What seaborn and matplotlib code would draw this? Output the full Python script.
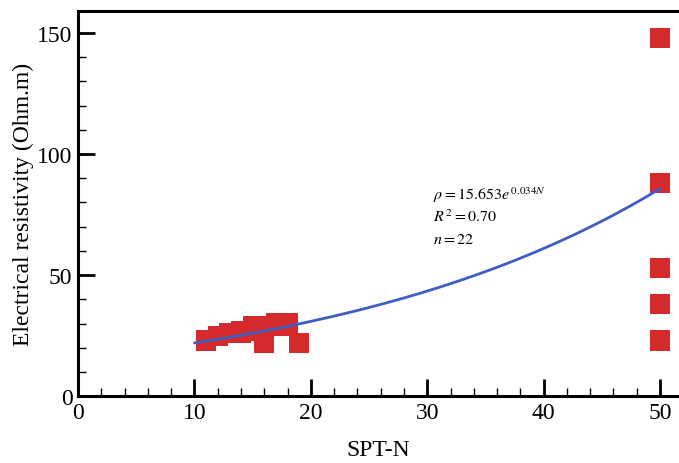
import numpy as np
import pandas as pd
import matplotlib
matplotlib.use("Agg")
import matplotlib.pyplot as plt
from matplotlib.ticker import MultipleLocator
import seaborn as sns

# Data
spt_n = [11, 12, 13, 14, 14, 15, 15, 15, 16, 16, 16, 16, 17, 17, 18, 18, 19,
         50, 50, 50, 50, 50]
resistivity = [23, 25, 26, 27, 26, 28, 27, 29, 29, 22, 28, 23, 30, 29, 30, 29, 22,
               148, 88, 53, 38, 23]

fit_a = 15.653
fit_b = 0.034
fit_range = [10, 50]

sns.set_style("ticks")
plt.rcParams['font.family'] = ['Liberation Serif', 'DejaVu Serif']
plt.rcParams['mathtext.fontset'] = 'stix'
for k in ["text.color", "axes.labelcolor", "xtick.color", "ytick.color", "axes.edgecolor"]:
    plt.rcParams[k] = "black"

df = pd.DataFrame({"SPT-N": spt_n, "rho": resistivity})
xf = np.linspace(fit_range[0], fit_range[1], 100)
fit_df = pd.DataFrame({"x": xf, "y": fit_a * np.exp(fit_b * xf)})

fig = plt.figure(figsize=(6.79, 4.64), dpi=100)
ax = fig.add_axes([0.115, 0.144, 0.885, 0.830])

sns.scatterplot(data=df, x="SPT-N", y="rho", ax=ax, marker="s", s=210,
                color="#d42a2c", edgecolor="none", zorder=2)
sns.lineplot(data=fit_df, x="x", y="y", ax=ax, color="#3f5fc0", lw=2, zorder=3)

ax.set_xlim(0, 51.63)
ax.set_ylim(0, 159)
ax.xaxis.set_major_locator(MultipleLocator(10))
ax.xaxis.set_minor_locator(MultipleLocator(2))
ax.yaxis.set_major_locator(MultipleLocator(50))
ax.yaxis.set_minor_locator(MultipleLocator(10))
ax.tick_params(which="major", direction="in", length=12, width=2, labelsize=17, pad=4,
               colors="black")
ax.tick_params(which="minor", direction="in", length=6, width=1, colors="black")
ax.tick_params(axis="y", which="both", right=False)
ax.tick_params(axis="x", which="both", top=False)

for s in ["left", "bottom", "top"]:
    ax.spines[s].set_linewidth(2.2)
    ax.spines[s].set_color("black")
ax.spines["right"].set_visible(False)

ax.set_xlabel("SPT-N", fontsize=17, labelpad=12, color="black")
ax.set_ylabel("Electrical resistivity (Ohm.m)", fontsize=17, labelpad=2, color="black")

ax.text(30.5, 83.5, r"$\rho = 15.653e^{\,0.034N}$", fontsize=11.5, va="center", color="black")
ax.text(30.5, 74, r"$R^{\,2} = 0.70$", fontsize=11.5, va="center", color="black")
ax.text(30.5, 65, r"$n = 22$", fontsize=11.5, va="center", color="black")

fig.savefig("out.png", dpi=100)
